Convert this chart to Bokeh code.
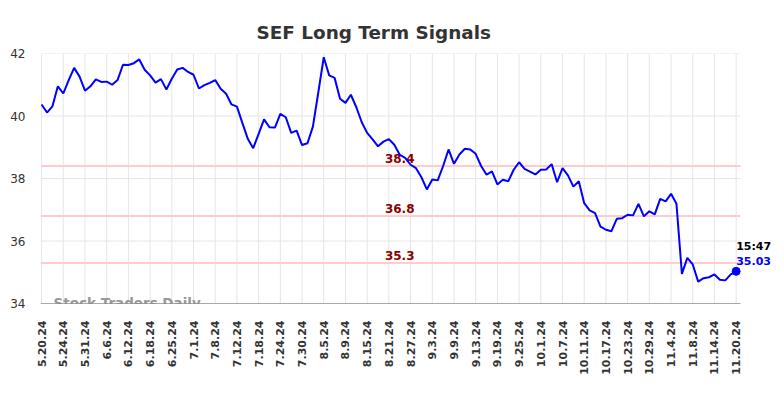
from bokeh.plotting import figure
from bokeh.models import FixedTicker, Label
from bokeh.core.properties import value
from bokeh.embed import file_html
from bokeh.resources import INLINE

tick_labels = ["5.20.24", "5.24.24", "5.31.24", "6.6.24", "6.12.24", "6.18.24", "6.25.24",
               "7.1.24", "7.8.24", "7.12.24", "7.18.24", "7.24.24", "7.30.24", "8.5.24",
               "8.9.24", "8.15.24", "8.21.24", "8.27.24", "9.3.24", "9.9.24", "9.13.24",
               "9.19.24", "9.25.24", "10.1.24", "10.7.24", "10.11.24", "10.17.24",
               "10.23.24", "10.29.24", "11.4.24", "11.8.24", "11.14.24", "11.20.24"]
tick_step = 4
y_ticks = [34, 36, 38, 40, 42]

prices = [40.37, 40.11, 40.31, 40.95, 40.72, 41.15, 41.54, 41.26, 40.81, 40.95,
          41.17, 41.09, 41.10, 41.00, 41.15, 41.64, 41.63, 41.69, 41.81, 41.48,
          41.30, 41.07, 41.18, 40.85, 41.19, 41.49, 41.54, 41.41, 41.32, 40.88,
          40.99, 41.06, 41.15, 40.87, 40.71, 40.37, 40.30, 39.78, 39.27, 38.97,
          39.43, 39.89, 39.64, 39.63, 40.07, 39.96, 39.46, 39.53, 39.07, 39.13,
          39.66, 40.76, 41.88, 41.30, 41.22, 40.55, 40.42, 40.68, 40.28, 39.80,
          39.46, 39.25, 39.03, 39.18, 39.26, 39.08, 38.76, 38.66, 38.44, 38.33,
          38.04, 37.65, 37.97, 37.94, 38.40, 38.93, 38.47, 38.77, 38.95, 38.93,
          38.79, 38.40, 38.12, 38.23, 37.81, 37.96, 37.91, 38.28, 38.52, 38.31,
          38.22, 38.13, 38.28, 38.29, 38.46, 37.88, 38.33, 38.10, 37.74, 37.91,
          37.21, 36.98, 36.89, 36.46, 36.36, 36.31, 36.71, 36.73, 36.84, 36.82,
          37.19, 36.79, 36.95, 36.85, 37.35, 37.27, 37.51, 37.19, 34.95, 35.46,
          35.25, 34.70, 34.81, 34.84, 34.93, 34.76, 34.74, 34.93, 35.03]

signal_levels = [38.4, 36.8, 35.3]
signal_texts = ["38.4", "36.8", "35.3"]
last_time = "15:47"
last_price_text = "35.03"
title_text = "SEF Long Term Signals"
watermark = "Stock Traders Daily"

x = list(range(len(prices)))
ticks = [i * tick_step for i in range(len(tick_labels))]

# plotting area limits (grid extent) and extended frame for the end label
x_lo, x_hi = -0.2, 128.8
px_per_unit = 700 / (x_hi - x_lo)
x_end = x_lo + 736 / px_per_unit

FONT = "DejaVu Sans"

p = figure(width=776, height=382, output_backend="svg", toolbar_location=None,
           x_range=(x_lo, x_end), y_range=(34, 42),
           min_border_left=40, min_border_right=0, min_border_top=53, min_border_bottom=79)
p.outline_line_color = None
p.background_fill_color = "white"

p.title.text = title_text
p.title.align = "left"
p.title.offset = 216
p.title.standoff = 22
p.title.text_font = FONT
p.title.text_font_size = "18.4px"
p.title.text_font_style = "bold"
p.title.text_color = "#333333"

p.xaxis.ticker = FixedTicker(ticks=ticks)
p.xaxis.major_label_overrides = {t: lab for t, lab in zip(ticks, tick_labels)}
p.xaxis.major_label_orientation = 1.5707963
p.xaxis.major_label_text_font = FONT
p.xaxis.major_label_text_font_size = "11px"
p.xaxis.major_label_text_font_style = "bold"
p.xaxis.major_label_text_color = "#333333"
p.xaxis.major_tick_line_color = None
p.xaxis.minor_tick_line_color = None
p.xaxis.major_tick_out = 0
p.xaxis.major_tick_in = 0
p.xaxis.major_label_standoff = 17
p.xaxis.axis_line_color = None

p.yaxis.ticker = FixedTicker(ticks=y_ticks)
p.yaxis.major_label_text_font = FONT
p.yaxis.major_label_text_font_size = "12px"
p.yaxis.major_label_text_color = "#333333"
p.yaxis.axis_line_color = None
p.yaxis.major_tick_line_color = None
p.yaxis.minor_tick_line_color = None
p.yaxis.major_tick_out = 0
p.yaxis.major_tick_in = 0
p.yaxis.major_label_standoff = 15

p.xgrid.grid_line_color = None
p.ygrid.grid_line_color = None

# grid limited to the plotting area
p.segment(x0=ticks, y0=[y_ticks[0]] * len(ticks), x1=ticks, y1=[y_ticks[-1]] * len(ticks),
          line_color="#e6e6e6", line_width=1)
p.segment(x0=[x_lo] * (len(y_ticks) - 1), y0=y_ticks[1:], x1=[x_hi] * (len(y_ticks) - 1),
          y1=y_ticks[1:], line_color="#e6e6e6", line_width=1)

# signal levels
p.segment(x0=[x_lo] * len(signal_levels), y0=signal_levels, x1=[x_hi] * len(signal_levels),
          y1=signal_levels, line_color="#ffcccc", line_width=2)

p.text([66] * len(signal_levels), signal_levels, text=signal_texts,
       text_font=value(FONT), text_font_size="12px", text_font_style="bold",
       text_color="#8b0000", text_align="center", text_baseline="bottom", y_offset=-3)

p.text([2.2], [34.03], text=[watermark], text_font=value(FONT), text_font_size="13.5px",
       text_font_style="bold", text_color="#999999", text_align="left", text_baseline="middle")

# axis line
p.segment(x0=[x_lo], y0=[y_ticks[0]], x1=[x_hi], y1=[y_ticks[0]], line_color="#555555", line_width=1)

p.line(x, prices, line_color="#0000ff", line_width=2)
p.scatter([x[-1]], [prices[-1]], size=8, color="#0000ff")

p.add_layout(Label(x=x[-1], y=prices[-1], text=last_time, text_font=FONT, text_font_size="11px",
                   text_font_style="bold", text_color="black", x_offset=0, y_offset=18))
p.add_layout(Label(x=x[-1], y=prices[-1], text=last_price_text, text_font=FONT, text_font_size="11px",
                   text_font_style="bold", text_color="#0000ff", x_offset=0, y_offset=6))

open("out.html", "w").write(file_html(p, INLINE))
